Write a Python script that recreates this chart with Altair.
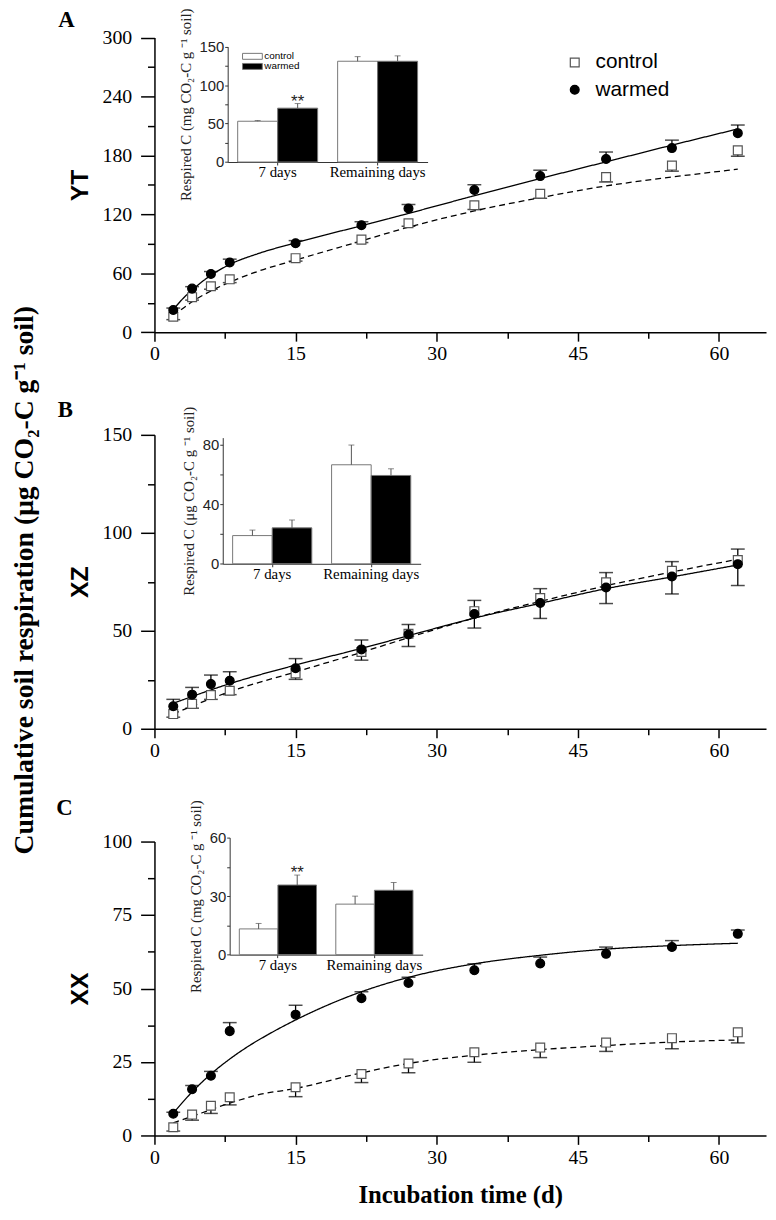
import altair as alt
import pandas as pd

# ---------------- data ----------------
days = [2, 4, 6, 8, 15, 22, 27, 34, 41, 48, 55, 62]
treatments = ["control", "warmed"]
periods = ["7 days", "Remaining days"]

# Panel A : YT
yt_control = [15.8, 35.7, 46.8, 53.9, 75.4, 94.3, 111.0, 129.3, 141.0, 158.0, 169.7, 185.2]
yt_control_err = [3.0, 3.0, 3.0, 3.4, 3.0, 3.0, 3.0, 4.3, 4.6, 5.0, 5.7, 6.0]
yt_warmed = [22.6, 44.4, 59.3, 71.0, 90.6, 109.0, 126.0, 144.8, 159.0, 176.4, 187.5, 202.7]
yt_warmed_err = [2.0, 2.0, 2.5, 3.4, 2.7, 3.5, 4.0, 5.4, 6.0, 7.1, 8.1, 8.3]
yt_fit_control_t = [2, 4, 6, 8, 11, 15, 22, 27, 34, 41, 48, 55, 62]
yt_fit_control = [16.5, 31, 42, 51, 62, 73.5, 93, 107, 123.5, 137, 149, 158, 166]
yt_fit_warmed_t = [2, 3, 4, 6, 8, 11, 15, 22, 27, 34, 41, 48, 55, 62]
yt_fit_warmed = [23, 34, 43, 58, 69, 80, 91, 108.5, 121, 139, 156.5, 173.5, 190.5, 207]

# Panel B : XZ
xz_control = [7.5, 12.7, 17.2, 19.4, 28.2, 39.2, 48.5, 60.0, 66.7, 74.7, 80.6, 86.1]
xz_control_err = [1.6, 2.2, 2.2, 2.0, 3.0, 4.2, 6.5, 8.6, 10.4, 10.8, 11.8, 13.0]
xz_warmed = [11.5, 17.4, 22.8, 24.5, 30.9, 40.5, 48.1, 58.6, 64.2, 72.1, 77.7, 84.0]
xz_warmed_err = [3.5, 3.7, 4.6, 4.6, 4.9, 4.8, 5.1, 6.9, 7.3, 7.6, 7.6, 7.7]
xz_fit_control_t = [2, 8, 15, 22, 27, 34, 41, 48, 55, 62]
xz_fit_control = [7.6, 18.9, 29.0, 39.0, 46.5, 56.5, 65.0, 73.0, 80.0, 86.5]
xz_fit_warmed_t = [2, 8, 15, 22, 27, 34, 41, 48, 55, 62]
xz_fit_warmed = [13.0, 23.0, 32.5, 41.0, 47.5, 56.5, 64.0, 71.5, 77.5, 83.6]

# Panel C : XX
xx_control = [2.8, 7.1, 10.1, 13.0, 16.4, 20.9, 24.5, 28.3, 29.9, 31.6, 33.1, 35.1]
xx_control_err = [1.3, 1.9, 2.6, 2.6, 3.2, 2.9, 3.2, 3.4, 3.4, 3.0, 3.6, 3.6]
xx_warmed = [7.4, 15.7, 20.3, 35.5, 41.1, 46.7, 51.9, 56.2, 58.5, 61.8, 64.1, 68.6]
xx_warmed_err = [0.5, 1.3, 1.5, 2.9, 3.2, 2.2, 1.9, 2.2, 2.2, 2.3, 2.2, 1.3]
xx_fit_control_t = [2, 4, 6, 8, 11, 15, 22, 27, 34, 41, 48, 55, 62]
xx_fit_control = [4.3, 6.5, 8.8, 11.0, 13.8, 16.0, 21.3, 24.5, 27.3, 29.2, 30.6, 31.8, 32.5]
xx_fit_warmed_t = [2, 4, 6, 8, 10, 12, 15, 18, 22, 27, 34, 41, 48, 55, 62]
xx_fit_warmed = [7.6, 14.8, 20.9, 26.0, 30.4, 34.2, 39.3, 43.8, 48.9, 53.8, 58.4, 61.3, 63.4, 64.6, 65.4]

# Insets (7 days, Remaining days)
in_yt_control = [53, 131]
in_yt_control_err = [1, 6]
in_yt_warmed = [70, 131]
in_yt_warmed_err = [6, 7]
in_yt_stars = ["**", ""]

in_xz_control = [19.0, 66.7]
in_xz_control_err = [3.7, 13.3]
in_xz_warmed = [24.2, 59.5]
in_xz_warmed_err = [5.3, 4.5]
in_xz_stars = ["", ""]

in_xx_control = [13.2, 25.9]
in_xx_control_err = [2.8, 4.1]
in_xx_warmed = [35.7, 33.0]
in_xx_warmed_err = [5.1, 4.0]
in_xx_stars = ["**", ""]

# ---------------- layout / style ----------------
W, H = 618, 1202
SERIF = "Liberation Serif"
SANS = "Liberation Sans"


def points_table(control, control_err, warmed, warmed_err):
    rows = []
    for d, v, e in zip(days, control, control_err):
        rows.append(dict(day=d, value=v, series="control", lo=v - e, hi=v, cap=v - e))
    for d, v, e in zip(days, warmed, warmed_err):
        rows.append(dict(day=d, value=v, series="warmed", lo=v, hi=v + e, cap=v + e))
    return pd.DataFrame(rows)


def fit_table(tc, fc, tw, fw):
    return pd.DataFrame({
        "day": list(tc) + list(tw),
        "value": list(fc) + list(fw),
        "series": ["control"] * len(tc) + ["warmed"] * len(tw),
    })


shape_enc = alt.Shape("series:N", scale=alt.Scale(domain=treatments, range=["square", "circle"]), legend=None)
fill_enc = alt.Fill("series:N", scale=alt.Scale(domain=treatments, range=["white", "black"]), legend=None)
stroke_enc = alt.Stroke("series:N", scale=alt.Scale(domain=treatments, range=["#555555", "black"]), legend=None)
dash_enc = alt.StrokeDash("series:N", scale=alt.Scale(domain=treatments, range=[[6, 4], [1, 0]]), legend=None)
bar_color = alt.Color("treat:N", scale=alt.Scale(domain=treatments, range=["white", "black"]), legend=None)


def main_panel(pts, fits, ydomain, yrange, ymajor, yminor, ymod, yname, xtitle, letter, letter_xy):
    x_off = yrange[0] - H
    xs = alt.Scale(domain=[0, 65], range=[0, W], nice=False, zero=False)
    ys = alt.Scale(domain=ydomain, range=list(yrange), nice=False, zero=False)
    xkw = dict(
        orient="bottom", offset=x_off, values=[0, 7.5, 15, 22.5, 30, 37.5, 45, 52.5, 60],
        labelExpr="datum.value % 15 === 0 ? datum.label : ''",
        tickSize={"condition": {"test": "datum.value % 15 === 0", "value": 9}, "value": 6},
        labelFont=SERIF, labelFontSize=20, labelColor="black", labelPadding=3,
        labelFlush=False, labelOverlap=False, grid=False,
        domainColor="black", domainWidth=1.5, tickColor="black", tickWidth=1.5,
        title=xtitle,
    )
    if xtitle:
        xkw.update(titleFont=SERIF, titleFontSize=25, titleFontWeight="bold", titleColor="black", titlePadding=16)
    xaxis = alt.Axis(**xkw)
    yaxis = alt.Axis(
        orient="left", offset=0, values=sorted(ymajor + yminor),
        labelExpr=f"datum.value % {ymod} === 0 ? datum.label : ''",
        tickSize={"condition": {"test": f"datum.value % {ymod} === 0", "value": 14}, "value": 7},
        labelFont=SERIF, labelFontSize=20, labelColor="black", labelPadding=9,
        labelFlush=False, labelOverlap=False, grid=False,
        domainColor="black", domainWidth=1.5, tickColor="black", tickWidth=1.5,
        title=yname, titleFont=SANS, titleFontSize=25, titleFontWeight="bold",
        titleColor="black", titlePadding=10,
    )

    def X(f):
        return alt.X(f, type="quantitative", scale=xs, axis=xaxis)

    def Y(f):
        return alt.Y(f, type="quantitative", scale=ys, axis=yaxis)

    lines = alt.Chart(fits).mark_line(color="black", strokeWidth=1.3, interpolate="monotone").encode(
        x=X("day"), y=Y("value"), strokeDash=dash_enc, detail="series:N")
    err = alt.Chart(pts).mark_rule(color="black", strokeWidth=1.3).encode(
        x=X("day"), y=Y("lo"), y2=alt.Y2("hi"))
    caps = alt.Chart(pts).mark_tick(orient="horizontal", size=14, thickness=1.5, color="black").encode(
        x=X("day"), y=Y("cap"))
    dots = alt.Chart(pts).mark_point(size=80, opacity=1, fillOpacity=1, strokeWidth=1.2).encode(
        x=X("day"), y=Y("value"), shape=shape_enc, fill=fill_enc, stroke=stroke_enc)
    lab = alt.Chart(pd.DataFrame({"t": [letter]})).mark_text(
        font=SERIF, fontSize=23, fontWeight="bold", color="black", align="center", baseline="middle"
    ).encode(x=alt.value(letter_xy[0]), y=alt.value(letter_xy[1]), text="t:N")
    return alt.layer(lines, err, caps, dots, lab)


def inset(control, control_err, warmed, warmed_err, stars, ydomain, yrange, ymajor, yminor, ymod, xrange, ytitle):
    df = pd.DataFrame({
        "period": periods * 2,
        "treat": ["control"] * 2 + ["warmed"] * 2,
        "value": control + warmed,
        "err": control_err + warmed_err,
        "star": ["", ""] + stars,
    })
    df["top"] = df["value"] + df["err"]
    xs = alt.Scale(domain=periods, range=list(xrange), paddingInner=0.2, paddingOuter=0.1)
    ys = alt.Scale(domain=ydomain, range=list(yrange), nice=False, zero=True)
    xaxis = alt.Axis(
        orient="bottom", offset=yrange[0] - H, tickSize=3, labelAngle=0,
        labelFont=SERIF, labelFontSize=15, labelColor="black", labelPadding=0,
        domainColor="#333333", tickColor="#333333", domainWidth=1, tickWidth=1,
        title=None, grid=False,
    )
    yaxis = alt.Axis(
        orient="left", offset=-xrange[0], values=sorted(ymajor + yminor),
        labelExpr=f"datum.value % {ymod} === 0 ? datum.label : ''",
        tickSize=3, labelFont=SANS, labelFontSize=15, labelColor="#222222", labelPadding=1,
        labelFlush=False, labelOverlap=False, grid=False,
        domainColor="#333333", tickColor="#333333", domainWidth=1, tickWidth=1,
        title=ytitle, titleFont=SERIF, titleFontSize=15, titleFontWeight="normal",
        titleColor="#222222", titlePadding=6,
    )
    X = alt.X("period:N", scale=xs, axis=xaxis, sort=periods)
    XO = alt.XOffset("treat:N", scale=alt.Scale(domain=treatments), sort=treatments)

    def Y(f):
        return alt.Y(f, type="quantitative", scale=ys, axis=yaxis)

    base = alt.Chart(df)
    bars = base.mark_bar(stroke="#777777", strokeWidth=1).encode(x=X, xOffset=XO, y=Y("value"), color=bar_color)
    err = base.mark_rule(color="#555555", strokeWidth=1).encode(x=X, xOffset=XO, y=Y("value"), y2=alt.Y2("top"))
    caps = base.mark_tick(orient="horizontal", size=6, thickness=1, color="#555555").encode(
        x=X, xOffset=XO, y=Y("top"))
    st = base.transform_filter("datum.star != ''").mark_text(
        font=SANS, fontSize=17, color="#222222", baseline="alphabetic", dy=3
    ).encode(x=X, xOffset=XO, y=Y("top"), text="star:N")
    return alt.layer(bars, err, caps, st)


panel_a = main_panel(points_table(yt_control, yt_control_err, yt_warmed, yt_warmed_err),
                     fit_table(yt_fit_control_t, yt_fit_control, yt_fit_warmed_t, yt_fit_warmed),
                     [0, 300], (321.3, 23.6), [0, 60, 120, 180, 240, 300], [30, 90, 150, 210, 270], 60,
                     "YT", None, "A", (-89, 6))
panel_b = main_panel(points_table(xz_control, xz_control_err, xz_warmed, xz_warmed_err),
                     fit_table(xz_fit_control_t, xz_fit_control, xz_fit_warmed_t, xz_fit_warmed),
                     [0, 150], (722, 425), [0, 50, 100, 150], [25, 75, 125], 50,
                     "XZ", None, "B", (-90, 400))
panel_c = main_panel(points_table(xx_control, xx_control_err, xx_warmed, xx_warmed_err),
                     fit_table(xx_fit_control_t, xx_fit_control, xx_fit_warmed_t, xx_fit_warmed),
                     [0, 100], (1133, 836), [0, 25, 50, 75, 100], [12.5, 37.5, 62.5, 87.5], 25,
                     "XX", "Incubation time (d)", "C", (-91, 802))

inset_a = inset(in_yt_control, in_yt_control_err, in_yt_warmed, in_yt_warmed_err, in_yt_stars,
                [0, 150], (149.3, 32.7), [0, 50, 100, 150], [25, 75, 125], 50, (74, 276),
                "Respired C (mg CO\u2082-C g \u207b\u00b9 soil)")
inset_b = inset(in_xz_control, in_xz_control_err, in_xz_warmed, in_xz_warmed_err, in_xz_stars,
                [0, 85], (555.3, 427.8), [0, 40, 80], [20, 60], 40, (69, 269),
                "Respired C (\u03bcg CO\u2082-C g \u207b\u00b9 soil)")
inset_c = inset(in_xx_control, in_xx_control_err, in_xx_warmed, in_xx_warmed_err, in_xx_stars,
                [0, 60], (950.3, 832), [0, 30, 60], [15, 45], 30, (76, 271),
                "Respired C (mg CO\u2082-C g \u207b\u00b9 soil)")

# legend of the main panel (drawn through point scales)
leg_df = pd.DataFrame({"series": treatments})
leg_y = alt.Y("series:N", scale=alt.Scale(type="point", domain=treatments, range=[48.7, 76.3], padding=0), axis=None)
leg_sym = alt.Chart(leg_df).mark_point(size=80, opacity=1, fillOpacity=1, strokeWidth=1.2).encode(
    x=alt.value(424.7), y=leg_y, shape=shape_enc, fill=fill_enc, stroke=stroke_enc)
leg_txt = alt.Chart(leg_df).mark_text(align="left", baseline="middle", font=SANS, fontSize=21, color="black").encode(
    x=alt.value(445.7), y=leg_y, text="series:N")
main_legend = alt.layer(leg_sym, leg_txt)

# legend of the inset bars
ileg_df = pd.DataFrame({"treat": treatments})
ileg_y = alt.Y("treat:N", scale=alt.Scale(type="point", domain=treatments, range=[42.5, 52.7], padding=0), axis=None)
ileg_sym = alt.Chart(ileg_df).mark_point(
    shape="M-3.33,-1H3.33V1H-3.33Z", size=36, filled=True, opacity=1, stroke="#777777", strokeWidth=1
).encode(x=alt.value(99), y=ileg_y, color=bar_color)
ileg_txt = alt.Chart(ileg_df).mark_text(align="left", baseline="middle", font=SANS, fontSize=10, color="black").encode(
    x=alt.value(111), y=ileg_y, text="treat:N")
inset_legend = alt.layer(ileg_sym, ileg_txt)

big_title = alt.Chart(pd.DataFrame({"t": ["Cumulative soil respiration (\u03bcg CO\u2082-C g\u207b\u00b9 soil)"]})).mark_text(
    font=SERIF, fontSize=28, fontWeight="bold", color="black", angle=270, align="center", baseline="middle"
).encode(x=alt.value(-131), y=alt.value(572), text="t:N")

chart = alt.layer(panel_a, inset_a, panel_b, inset_b, panel_c, inset_c,
                  main_legend, inset_legend, big_title).resolve_scale(
    x="independent", y="independent", xOffset="independent"
).properties(
    width=W, height=H,
    autosize=alt.AutoSizeParams(type="none"),
    padding={"left": 148, "top": 0, "right": 2, "bottom": 2},
).configure_view(strokeWidth=0)

chart.save("out.html", embed_options={"renderer": "svg", "actions": False})
